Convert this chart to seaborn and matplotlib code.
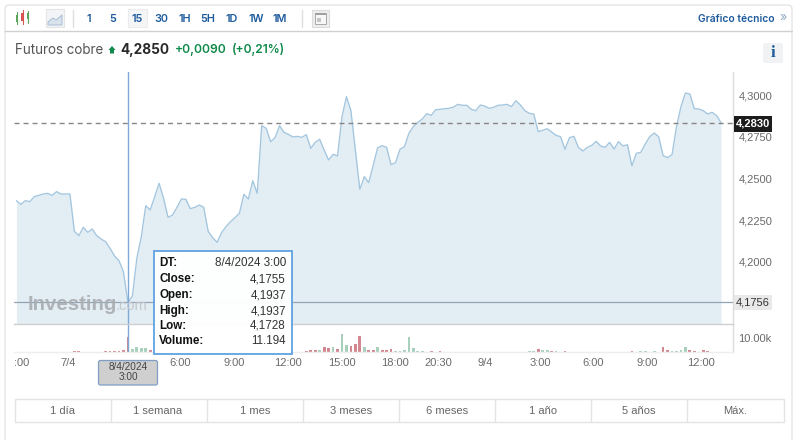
import matplotlib
matplotlib.use("Agg")
import matplotlib.pyplot as plt
from matplotlib.patches import Rectangle, FancyBboxPatch, Polygon
from matplotlib.ticker import FixedLocator, FixedFormatter
import numpy as np
import pandas as pd
import seaborn as sns

# ---- data ----
prices = [
 4.2366,4.2344,4.2366,4.2360,4.2390,4.2398,4.2406,4.2410,4.2398,4.2420,
 4.2406,4.2406,4.2406,4.2182,4.2156,4.2206,4.2176,4.2196,4.2156,4.2136,
 4.2120,4.2080,4.2034,4.2006,4.1940,4.1755,4.1794,4.2020,4.2150,4.2336,
 4.2310,4.2390,4.2470,4.2380,4.2266,4.2280,4.2326,4.2376,4.2374,4.2318,
 4.2326,4.2340,4.2326,4.2182,4.2144,4.2116,4.2174,4.2210,4.2240,4.2264,
 4.2290,4.2404,4.2376,4.2486,4.2410,4.2816,4.2800,4.2720,4.2744,4.2816,
 4.2776,4.2764,4.2748,4.2752,4.2746,4.2762,4.2680,4.2716,4.2734,4.2670,
 4.2610,4.2644,4.2634,4.2870,4.2990,4.2906,4.2670,4.2434,4.2510,4.2474,
 4.2580,4.2684,4.2696,4.2686,4.2582,4.2594,4.2674,4.2690,4.2770,4.2810,
 4.2836,4.2856,4.2888,4.2878,4.2912,4.2914,4.2918,4.2920,4.2928,4.2944,
 4.2938,4.2938,4.2914,4.2906,4.2940,4.2934,4.2920,4.2926,4.2938,4.2940,
 4.2944,4.2930,4.2966,4.2940,4.2906,4.2890,4.2886,4.2780,4.2788,4.2798,
 4.2778,4.2758,4.2750,4.2674,4.2744,4.2752,4.2686,4.2664,4.2686,4.2698,
 4.2722,4.2694,4.2686,4.2716,4.2676,4.2720,4.2694,4.2702,4.2576,4.2650,
 4.2656,4.2706,4.2750,4.2772,4.2750,4.2636,4.2624,4.2642,4.2810,4.2930,
 4.3012,4.3006,4.2918,4.2916,4.2906,4.2886,4.2896,4.2876,4.2834]

vol_index = [13,14,20,21,22,23,24,25,26,27,28,29,30,
             62,63,65,66,67,68,69,70,71,72,73,74,75,76,77,78,79,80,81,82,83,84,85,86,87,88,89,90,91,93,95,
             113,114,115,116,117,118,119,120,121,123,
             135,136,138,140,141,143,145,146,147,148,149,150,151,152,154,155,156]
vol_values = [700,700,500,500,700,500,1100,11194,2200,3500,2800,2700,1100,
              200,300,500,1400,1800,1500,3300,3000,3300,2200,13400,5200,4100,6000,11900,3700,1100,1500,3700,1100,1500,1900,700,700,1500,11200,3000,500,400,500,700,
              300,300,400,400,2200,1100,1500,700,700,700,
              300,300,700,400,400,400,3700,1100,700,700,1100,3400,1100,700,1100,700,300]
vol_dir = ["d","d","d","d","d","d","d","d","u","u","u","u","d",
           "d","d","d","d","d","u","d","d","u","d","u","u","d","d","d","u","d","d","u","d","d","d","u","u","u","u","u","u","u","d","d",
           "u","u","u","u","d","u","u","d","u","d",
           "u","u","d","u","u","u","d","d","u","u","u","u","d","d","d","d","u"]

price_ticks = [4.20, 4.225, 4.25, 4.275, 4.30]
price_tick_labels = ["4,2000", "4,2250", "4,2500", "4,2750", "4,3000"]
time_ticks = [1.1, 11.7, 25, 36.8, 48.9, 60.8, 72.9, 84.8, 94.6, 105.2, 117.5, 129.4, 141.5, 153.4]
time_labels = [":00", "7/4", "", "6:00", "9:00", "12:00", "15:00", "18:00", "20:30", "9/4", "3:00", "6:00", "9:00", "12:00"]
last_price = 4.2830
cross_price = 4.1756
cross_index = 25
intervals = ["1", "5", "15", "30", "1H", "5H", "1D", "1W", "1M"]
ranges = ["1 día", "1 semana", "1 mes", "3 meses", "6 meses", "1 año", "5 años", "Máx."]
tooltip_keys = ["DT:", "Close:", "Open:", "High:", "Low:", "Volume:"]
tooltip_vals = ["8/4/2024 3:00", "4,1755", "4,1937", "4,1937", "4,1728", "11.194"]

# ---- setup ----
sns.set_theme(style="white")
plt.rcParams["font.family"] = ["Liberation Sans", "DejaVu Sans"]
W, H = 800, 440
fig = plt.figure(figsize=(8, 4.4), dpi=100, facecolor="white")

def axes_px(x0, y0, x1, y1, **kw):
    return fig.add_axes([x0 / W, 1 - y1 / H, (x1 - x0) / W, (y1 - y0) / H], **kw)

XLIM = (-0.54, 160.67)
BLUE = "#1d5a9c"
GREEN = "#0e8a4a"
LINE = "#a3c6de"
FILL = "#e3edf4"
TXT = "#6b6b6b"

# background card
bg = axes_px(0, 0, W, H, zorder=0)
bg.set_xlim(0, W); bg.set_ylim(H, 0); bg.axis("off")
bg.add_patch(FancyBboxPatch((5, 5), 787, 500, boxstyle="round,pad=0,rounding_size=4",
                            fc="white", ec="#e6e6e6", lw=1.0))
bg.plot([5, 792], [31.5, 31.5], color="#d0d0d0", lw=1)

# price panel
df = pd.DataFrame({"i": np.arange(len(prices)), "price": prices})
ax = axes_px(14, 72, 733, 324, zorder=2)
ax.patch.set_alpha(0)
ax.fill_between(df["i"], df["price"], 4.1626, color=FILL, lw=0)
sns.lineplot(data=df, x="i", y="price", ax=ax, color=LINE, lw=0.95)
ax.set_xlim(*XLIM)
ax.set_ylim(4.1626, 4.3138)
ax.axhline(last_price, color="#868686", lw=1.0, dashes=(3.6, 2.9), zorder=4)
ax.axhline(cross_price, color="#93a4b4", lw=0.9, zorder=4)
ax.yaxis.tick_right()
ax.yaxis.set_major_locator(FixedLocator(price_ticks))
ax.yaxis.set_major_formatter(FixedFormatter(price_tick_labels))
ax.tick_params(axis="y", length=0, pad=4, labelsize=8, labelcolor=TXT)
ax.set_xticks([]); ax.set_xlabel(""); ax.set_ylabel("")
for s in ["top", "left"]:
    ax.spines[s].set_visible(False)
ax.spines["right"].set_color("#dcdcdc"); ax.spines["right"].set_lw(1)
ax.spines["bottom"].set_color("#cfcfcf"); ax.spines["bottom"].set_lw(1)

# volume panel
vdf = pd.DataFrame({"i": vol_index, "volume": vol_values, "dir": vol_dir})
vax = axes_px(14, 325, 733, 352, zorder=2)
vax.patch.set_alpha(0)
sns.barplot(data=vdf, x="i", y="volume", hue="dir", native_scale=True, dodge=False,
            palette={"u": "#a3d6bd", "d": "#df7c88"}, width=0.62, legend=False,
            errorbar=None, ax=vax, linewidth=0)
vax.set_xlim(*XLIM)
vax.set_ylim(0, 19700)
vax.yaxis.tick_right()
vax.yaxis.set_major_locator(FixedLocator([10000]))
vax.yaxis.set_major_formatter(FixedFormatter(["10.00k"]))
vax.tick_params(axis="y", length=0, pad=4, labelsize=8, labelcolor=TXT)
vax.xaxis.set_major_locator(FixedLocator(time_ticks))
vax.xaxis.set_major_formatter(FixedFormatter(time_labels))
vax.tick_params(axis="x", length=3, width=0.7, color="#e2e2e2", direction="inout", pad=3,
                labelsize=8, labelcolor=TXT)
vax.set_xlabel(""); vax.set_ylabel("")
for s in ["top", "left"]:
    vax.spines[s].set_visible(False)
vax.spines["right"].set_color("#dcdcdc"); vax.spines["right"].set_lw(1)
vax.spines["bottom"].set_color("#eeeeee"); vax.spines["bottom"].set_lw(1)
vax.axvline(cross_index, color="#7fa9d6", lw=1, zorder=5)
ax.axvline(cross_index, color="#7fa9d6", lw=1, zorder=5)

# overlay (chrome) in pixel coordinates
ov = axes_px(0, 0, W, H, zorder=5)
ov.set_xlim(0, W); ov.set_ylim(H, 0); ov.axis("off"); ov.patch.set_alpha(0)

def T(x, y, s, **kw):
    kw.setdefault("va", "center")
    kw.setdefault("ha", "left")
    return ov.text(x, y, s, **kw)

INTER = ["Inter", "DejaVu Sans"]

# toolbar icons
for x, y0, y1, b0, b1, c in [(17, 12, 24, 15, 22, "#5aa55a"), (22.5, 10, 24, 13, 21, "#d9534f"), (28, 11, 23, 13, 19, "#5aa55a")]:
    ov.plot([x, x], [y0, y1], color=c, lw=0.8)
    ov.add_patch(Rectangle((x - 1.3, b0), 2.6, b1 - b0, fc=c, ec="none"))
ov.add_patch(Rectangle((45.5, 9.5), 18, 18, fc="#f2f4f7", ec="#e4e4e4", lw=0.8))
ov.add_patch(Polygon([(48, 25), (48, 22), (53, 18), (56, 20), (62, 15), (62, 25)], fc="#d8e3ee", ec="#a9bdd2", lw=0.7))
ov.plot([72.5, 72.5], [10, 27], color="#dedede", lw=1)
ov.plot([301.5, 301.5], [10, 27], color="#dedede", lw=1)
ov.add_patch(Rectangle((127.5, 9.5), 19, 18, fc="#f4f5f7", ec="#ececec", lw=0.8))
for x, s in zip([89, 113, 137, 161, 185, 208, 232, 256, 280], intervals):
    T(x, 19, s, ha="center", color=BLUE, fontsize=7.8, fontweight="semibold", family=INTER)
ov.add_patch(Rectangle((312, 10), 17, 17, fc="#ededed", ec="#dcdcdc", lw=0.8))
ov.add_patch(Rectangle((315, 13), 11, 11, fc="#f7f7f7", ec="#a8a8a8", lw=0.7))
ov.add_patch(Rectangle((315, 13), 11, 2.5, fc="#a0a0a0", ec="none"))
ov.add_patch(Rectangle((316.5, 18), 4, 4, fc="#c4c4c4", ec="none"))
T(775, 19, "Gráfico técnico", ha="right", color=BLUE, fontsize=7.4, fontweight="semibold", family=INTER)
T(780, 18.5, "»", color="#8fa8c4", fontsize=9, family=INTER)

# title row
T(15, 50, "Futuros cobre", color="#555555", fontsize=9.7, family=INTER)
ov.add_patch(Polygon([(108.5, 50), (112, 46), (115.5, 50), (114, 50), (114, 53.5), (110, 53.5), (110, 50)], fc=GREEN, ec="none"))
T(120, 50, "4,2850", color="#2a2a2a", fontsize=9.8, fontweight="bold", family=INTER)
T(175, 50, "+0,0090", color=GREEN, fontsize=8.7, fontweight="semibold", family=INTER)
T(232, 50, "(+0,21%)", color=GREEN, fontsize=8.6, fontweight="semibold", family=INTER)
ov.add_patch(FancyBboxPatch((763, 43), 20, 20, boxstyle="round,pad=0,rounding_size=2", fc="#f1f2f3", ec="none"))
T(773, 53, "i", ha="center", color=BLUE, fontsize=12, fontweight="bold", family=["Liberation Serif"])

# watermark
T(27.5, 304.5, "Investing", color="#a9adb1", fontsize=14.7, fontweight="bold", alpha=0.9)
T(116, 306, ".com", color="#c5c8cb", fontsize=10.5)

# price tags
ov.add_patch(Rectangle((734, 116), 38, 16, fc="#1c1c1c", ec="none"))
T(753, 124, "4,2830", ha="center", color="white", fontsize=8, fontweight="bold")
ov.add_patch(Rectangle((734, 295), 38, 15, fc="#e9e9e9", ec="none"))
T(753, 302.5, "4,1756", ha="center", color="#333333", fontsize=8)

# tooltip
ov.add_patch(Rectangle((153.5, 251.5), 138, 103, fc="white", ec="#5a9fe0", lw=1.3, alpha=0.96))
for y, k, v in zip([263, 279, 295, 311, 326, 341], tooltip_keys, tooltip_vals):
    T(159, y, k, color="#111111", fontsize=8.4, fontweight="bold")
    T(286, y, v, ha="right", color="#333333", fontsize=8.4)

# date tag
ov.add_patch(FancyBboxPatch((98.5, 360.5), 59, 24.5, boxstyle="round,pad=0,rounding_size=2",
                            fc="#cfcfcf", ec="#7f9fc4", lw=0.9))
T(128, 367, "8/4/2024", ha="center", color="#444444", fontsize=7.2)
T(128, 377.5, "3:00", ha="center", color="#444444", fontsize=7.2)

# range buttons
ov.add_patch(Rectangle((14.5, 399.5), 769, 23, fc="white", ec="#e4e4e4", lw=1))
for x in [110.5, 207, 303, 399, 494.5, 591, 687]:
    ov.plot([x, x], [399.5, 422.5], color="#e4e4e4", lw=1)
for x, s in zip([63, 158, 255, 351, 447, 543, 639, 735], ranges):
    T(x, 411, s, ha="center", color="#666666", fontsize=8)

fig.savefig("out.png", dpi=100)
